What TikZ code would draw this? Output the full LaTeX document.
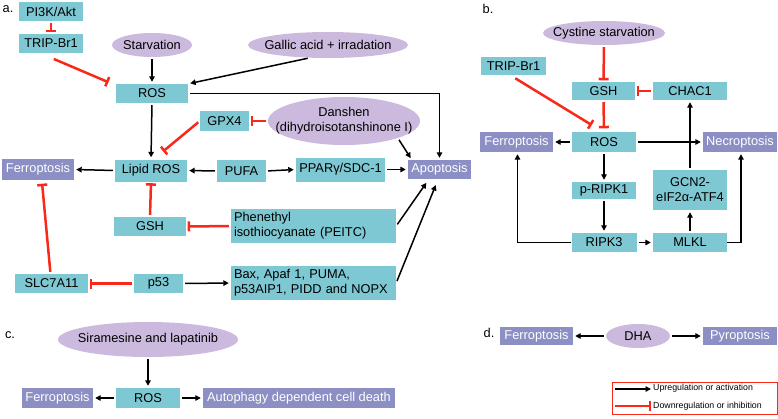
\documentclass[tikz,border=0pt]{standalone}
\usepackage{fontspec}
\setmainfont{Liberation Sans}
\usetikzlibrary{shapes.geometric,arrows.meta,calc}
\definecolor{tealc}{RGB}{126,200,211}
\definecolor{outc}{RGB}{140,143,196}
\definecolor{ellc}{RGB}{203,186,222}
\definecolor{redc}{RGB}{250,40,25}
\tikzset{
  txt/.style={font=\fontsize{12.8}{15}\selectfont},
  box/.style={txt, fill=tealc, inner sep=0pt, minimum height=19pt},
  outbox/.style={txt, fill=outc, text=white, inner sep=0pt, minimum height=19pt},
  ellb/.style={ellipse, fill=ellc, inner sep=0pt},
  elltext/.style={txt, align=center, inner sep=0pt},
  act/.style={-{Triangle[length=5.5pt,width=5.5pt]}, line width=1.5pt, shorten <=2pt, shorten >=2pt},
  inh/.style={-{Bar[width=10pt]}, redc, line width=2.5pt, shorten <=2pt, shorten >=1.5pt},
  lab/.style={txt, inner sep=0pt}
}
\begin{document}
\begin{tikzpicture}[x=1pt,y=-1pt]
\useasboundingbox (0,0) rectangle (778,418);

% ---------- panel a ----------
\node[lab] (la) at (8,9) {a.};
\node[box, minimum width=64pt] (pi3k) at (51,11.5) {PI3K/Akt};
\node[box, minimum width=64pt] (tripa) at (51,43.5) {TRIP-Br1};
\node[ellb, minimum width=80pt, minimum height=24pt] (starv) at (152,45) {};
\node[elltext] (starvt) at (starv) {Starvation};
\node[ellb, minimum width=160pt, minimum height=26pt] (gallic) at (328,45) {};
\node[elltext] (gallict) at (gallic) {Gallic acid + irradation};
\node[box, minimum width=72pt] (rosa) at (152,93.5) {ROS};
\node[box, minimum width=49pt, minimum height=20pt] (gpx4) at (224.5,121) {GPX4};
\node[ellb, minimum width=152pt, minimum height=48pt] (danshen) at (344,121) {};
\node[elltext] (danshent) at (danshen) {Danshen\\(dihydroisotanshinone I)};
\node[box, minimum width=72pt, minimum height=22pt] (lipid) at (151,170.5) {Lipid ROS};
\node[outbox, minimum width=72pt, minimum height=21pt] (ferroa) at (38,169.5) {Ferroptosis};
\node[box, minimum width=49pt, minimum height=22pt] (pufa) at (241.5,171) {PUFA};
\node[box, minimum width=89pt, minimum height=24pt] (ppar) at (340.5,169.5) {PPARγ/SDC-1};
\node[outbox, minimum width=63pt, minimum height=19pt] (apop) at (439.5,169.5) {Apoptosis};
\node[box, minimum width=72pt] (gsha) at (150,226.5) {GSH};
\node[box, text width=159pt, inner xsep=3pt, minimum height=34pt, align=left] (peitc) at (313.5,226) {Phenethyl\\isothiocyanate (PEITC)};
\node[box, text width=159pt, inner xsep=3pt, minimum height=34pt, align=left] (bax) at (313.5,283) {Bax, Apaf 1, PUMA,\\p53AIP1, PIDD and NOPX};
\node[box, minimum width=49pt] (p53) at (158.5,283.5) {p53};
\node[box, minimum width=73pt] (slc) at (51.5,283.5) {SLC7A11};

\draw[inh] (pi3k.south) -- (tripa.north);
\draw[inh] ($(tripa.south)+(1,5)$) -- ($(rosa.north west)+(-6,-1)$);
\draw[act] (starv.south) -- (rosa.north);
\draw[act] (gallic.215) -- (rosa.north east);
\draw[act] (rosa.south) -- (lipid.north);
\draw[act] (rosa.east) -| (apop.north);
\draw[inh] (gpx4.west) -- ($(lipid.north)+(11,-7)$);
\draw[inh] (danshen.west) -- (gpx4.east);
\draw[act] (danshen.south east) -- ($(apop.north west)+(4,0)$);
\draw[act] (lipid.west) -- (ferroa.east);
\draw[act] (pufa.west) -- (lipid.east);
\draw[act] (pufa.east) -- (ppar.west);
\draw[act] (ppar.east) -- (apop.west);
\draw[inh] (gsha.north) -- (lipid.south);
\draw[inh] (peitc.west) -- (gsha.east);
\draw[act] (peitc.east) -- ($(apop.south)+(-12,2)$);
\draw[act] (bax.east) -- ($(apop.south)+(-3,4)$);
\draw[act] (p53.east) -- (bax.west);
\draw[inh] (p53.west) -- (slc.east);
\draw[inh] ($(slc.north)+(-1,0)$) -- ($(ferroa.south)+(4,2)$);

% ---------- panel b ----------
\node[lab] (lb) at (488,9) {b.};
\node[ellb, minimum width=122pt, minimum height=24pt] (cyst) at (604,33) {};
\node[elltext] (cystt) at (cyst) {Cystine starvation};
\node[box, minimum width=65pt, minimum height=18pt] (tripb) at (513.5,66) {TRIP-Br1};
\node[box, minimum width=63pt, minimum height=18pt] (gshb) at (603.5,91) {GSH};
\node[box, minimum width=74pt, minimum height=18pt] (chac) at (690,91) {CHAC1};
\node[box, minimum width=64pt, minimum height=20pt] (rosb) at (604,142) {ROS};
\node[outbox, minimum width=73pt, minimum height=20pt] (ferrob) at (516.5,142) {Ferroptosis};
\node[outbox, minimum width=74pt, minimum height=20pt] (necro) at (740,142) {Necroptosis};
\node[box, minimum width=64pt, minimum height=17pt] (pripk) at (604,190.5) {p-RIPK1};
\node[box, minimum width=74pt, minimum height=40pt, align=center] (gcn) at (690,190) {GCN2-\\eIF2α-ATF4};
\node[box, minimum width=65pt, minimum height=19pt] (ripk3) at (604,242.5) {RIPK3};
\node[box, minimum width=74pt, minimum height=19pt] (mlkl) at (690,242.5) {MLKL};

\draw[inh] (cyst.south) -- (gshb.north);
\draw[inh] (chac.west) -- (gshb.east);
\draw[inh] ($(tripb.south)+(0,2)$) -- ($(rosb.north)+(-11,-6)$);
\draw[inh, shorten >=3.5pt] (gshb.south) -- (rosb.north);
\draw[act] (rosb.west) -- (ferrob.east);
\draw[act] (rosb.east) -- (necro.west);
\draw[act] (rosb.south) -- (pripk.north);
\draw[act] (pripk.south) -- (ripk3.north);
\draw[act] (ripk3.east) -- (mlkl.west);
\draw[act] (mlkl.north) -- (gcn.south);
\draw[act] (gcn.north) -- (chac.south);
\draw[act, shorten <=0pt] (ripk3.west) -| ($(ferrob.south)+(1,0)$);
\draw[act, shorten <=0pt] (mlkl.east) -| ($(necro.south)+(1,0)$);

% ---------- panel c ----------
\node[lab] (lc) at (10,335) {c.};
\node[ellb, minimum width=180pt, minimum height=35pt] (sira) at (148,339.5) {};
\node[elltext] (sirat) at (sira) {Siramesine and lapatinib};
\node[box, minimum width=64pt, minimum height=20pt] (rosc) at (148,398) {ROS};
\node[outbox, minimum width=71pt, minimum height=20pt] (ferroc) at (57.5,398) {Ferroptosis};
\node[outbox, minimum width=192pt, minimum height=20pt] (auto) at (299,398) {Autophagy dependent cell death};
\draw[act] (sira.south) -- (rosc.north);
\draw[act] (rosc.west) -- (ferroc.east);
\draw[act] (rosc.east) -- (auto.west);

% ---------- panel d ----------
\node[lab] (ld) at (489,333) {d.};
\node[outbox, minimum width=73pt, minimum height=18pt] (ferrod) at (536.5,336) {Ferroptosis};
\node[ellb, minimum width=64pt, minimum height=24pt] (dha) at (638,336) {};
\node[elltext] (dhat) at (dha) {DHA};
\node[outbox, minimum width=74pt, minimum height=18pt] (pyro) at (740,336) {Pyroptosis};
\draw[act] (dha.west) -- (ferrod.east);
\draw[act] (dha.east) -- (pyro.west);

% ---------- legend ----------
\node[draw=redc, line width=0.9pt, minimum width=165pt, minimum height=32pt, inner sep=0pt] (legend) at (694.5,398) {};
\coordinate (l1s) at (615,389);
\coordinate (l1e) at (651,389);
\coordinate (l2s) at (615,406);
\coordinate (l2e) at (651,406);
\draw[act, shorten <=0pt, shorten >=0pt] (l1s) -- (l1e);
\draw[inh, shorten <=0pt, shorten >=0pt] (l2s) -- (l2e);
\node[anchor=west, font=\fontsize{8.8}{10}\selectfont, inner sep=0pt] (lt1) at (653,388) {Upregulation or activation};
\node[anchor=west, font=\fontsize{8.8}{10}\selectfont, inner sep=0pt] (lt2) at (653,406) {Downregulation or inhibition};
\end{tikzpicture}
\end{document}
